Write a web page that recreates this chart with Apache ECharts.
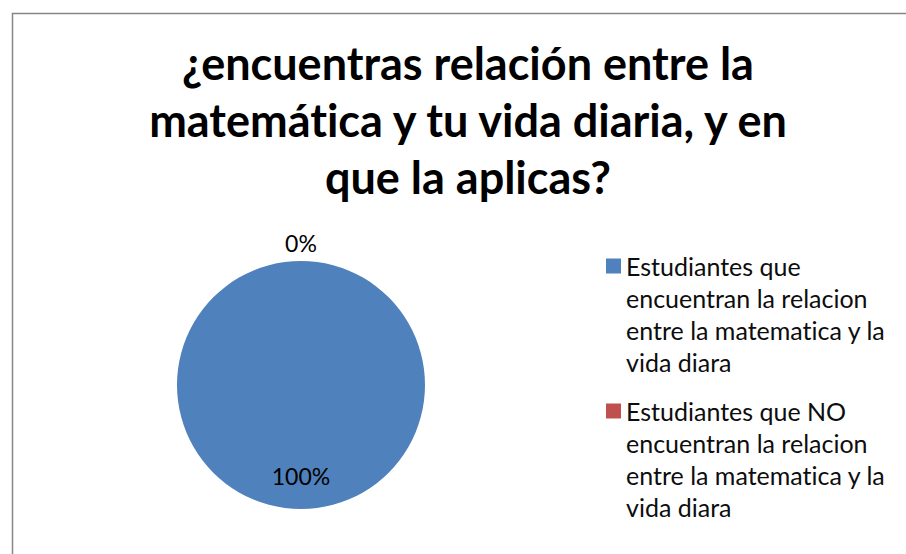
<!DOCTYPE html>
<html><head><meta charset="utf-8">
<script src="https://cdn.jsdelivr.net/npm/echarts@6/dist/echarts.min.js"></script>
<style>html,body{margin:0;padding:0;background:#fff}#c{width:906px;height:554px}#c text{font-variant-ligatures:none;font-feature-settings:"liga" 0,"clig" 0}</style>
</head><body><div id="c"></div>
<script>
const titleText = '¿encuentras relación entre la\nmatemática y tu vida diaria, y en\nque la aplicas?';
const categories = [
  'Estudiantes que\nencuentran la relacion\nentre la matematica y la\nvida diara',
  'Estudiantes que NO\nencuentran la relacion\nentre la matematica y la\nvida diara'
];
const values = [100, 0];
const percentLabels = ['100%', '0%'];
const colors = ['#4F81BD', '#C0504D'];

const chart = echarts.init(document.getElementById('c'), null, {renderer: 'svg'});
const FONT = 'Lato, "Open Sans", sans-serif';
chart.setOption({
  animation: false,
  backgroundColor: '#fff',
  graphic: [{
    type: 'rect', left: 10, top: 11,
    shape: {x: 0, y: 0, width: 920, height: 560},
    style: {fill: 'none', stroke: '#868686', lineWidth: 1.5},
    silent: true
  }],
  title: {
    text: titleText,
    left: 463, top: 29, textAlign: 'center',
    textStyle: {fontFamily: FONT, fontWeight: 'bold', fontSize: 45, lineHeight: 57, color: '#000'}
  },
  legend: {
    orient: 'vertical',
    left: 606, top: 154, padding: 0,
    itemWidth: 15, itemHeight: 15, itemGap: -79,
    icon: 'rect',
    formatter: name => '\n\n\n' + name,
    textStyle: {fontFamily: FONT, fontSize: 25, lineHeight: 32, color: '#0d0d0d'},
    data: categories
  },
  series: [{
    type: 'pie',
    center: [301, 385],
    radius: 124,
    startAngle: 90,
    clockwise: true,
    avoidLabelOverlap: false,
    stillShowZeroSum: true,
    itemStyle: {borderWidth: 0},
    labelLine: {show: false},
    emphasis: {disabled: true},
    label: {show: true, position: 'inside', fontFamily: FONT, fontSize: 23, color: '#000',
            formatter: p => percentLabels[p.dataIndex]},
    labelLayout: p => (p.dataIndex === 0 ? {dy: 26} : {dy: -77}),
    data: categories.map((n, i) => ({
      name: n, value: values[i],
      itemStyle: {color: colors[i]}
    }))
  }]
});
</script></body></html>
